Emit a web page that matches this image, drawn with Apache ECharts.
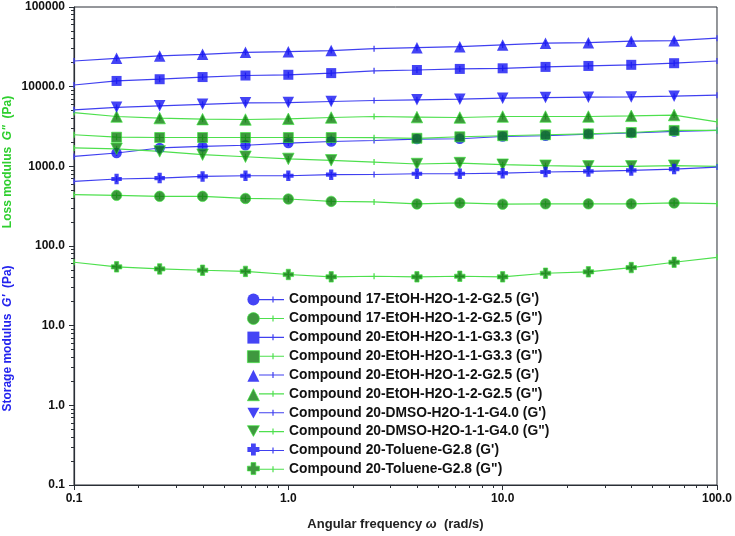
<!DOCTYPE html>
<html><head><meta charset="utf-8">
<script src="https://cdn.jsdelivr.net/npm/echarts@6/dist/echarts.min.js"></script>
<style>html,body{margin:0;padding:0;background:#fff}#c{width:735px;height:536px}</style>
</head><body><div id="c"></div>
<script>
// Angular frequency (rad/s)
const freq = [0.1, 0.158, 0.251, 0.398, 0.631, 1.0, 1.585, 2.512, 3.981, 6.31, 10.0, 15.85, 25.12, 39.81, 63.1, 100.0];
// whether a point carries a big symbol
const marked = [false, true, true, true, true, true, true, false, true, true, true, true, true, true, true, false];

const c17_Gp   = [1330, 1470, 1700, 1780, 1840, 1960, 2050, 2110, 2200, 2220, 2370, 2420, 2540, 2620, 2740, 2820];
const c17_Gpp  = [441, 432, 420, 420, 395, 389, 363, 357, 337, 347, 335, 338, 338, 338, 347, 340];
const c20a_Gp  = [10500, 11800, 12400, 13200, 13800, 14100, 14800, 15800, 16200, 16700, 17000, 17700, 18200, 18800, 19700, 21000];
const c20a_Gpp = [2490, 2320, 2300, 2300, 2300, 2300, 2300, 2290, 2250, 2350, 2420, 2490, 2560, 2660, 2820, 2820];
const c20b_Gp  = [21000, 22700, 24300, 25500, 27000, 27500, 28400, 30000, 30900, 31800, 33400, 35100, 35700, 37200, 37800, 40600];
const c20b_Gpp = [4730, 4220, 4030, 3910, 3870, 3950, 4100, 4220, 4150, 4100, 4220, 4220, 4220, 4300, 4400, 3620];
const c20d_Gp  = [5120, 5500, 5750, 6000, 6260, 6320, 6510, 6700, 6840, 6970, 7180, 7300, 7380, 7440, 7600, 7820];
const c20d_Gpp = [1700, 1660, 1540, 1400, 1320, 1240, 1190, 1130, 1070, 1100, 1050, 1020, 1000, 1000, 1020, 1000];
const c20t_Gp  = [647, 693, 713, 747, 762, 762, 785, 790, 807, 807, 820, 849, 864, 889, 925, 980];
const c20t_Gpp = [62.5, 54.7, 51.6, 49.6, 48.0, 43.9, 41.0, 41.7, 41.0, 41.7, 41.0, 45.5, 47.4, 53.6, 62.5, 72];

const seriesNames = [
  "Compound 17-EtOH-H2O-1-2-G2.5 (G')",
  "Compound 17-EtOH-H2O-1-2-G2.5 (G\")",
  "Compound 20-EtOH-H2O-1-1-G3.3 (G')",
  "Compound 20-EtOH-H2O-1-1-G3.3 (G\")",
  "Compound 20-EtOH-H2O-1-2-G2.5 (G')",
  "Compound 20-EtOH-H2O-1-2-G2.5 (G\")",
  "Compound 20-DMSO-H2O-1-1-G4.0 (G')",
  "Compound 20-DMSO-H2O-1-1-G4.0 (G\")",
  "Compound 20-Toluene-G2.8 (G')",
  "Compound 20-Toluene-G2.8 (G\")"
];
const seriesValues = [c17_Gp, c17_Gpp, c20a_Gp, c20a_Gpp, c20b_Gp, c20b_Gpp, c20d_Gp, c20d_Gpp, c20t_Gp, c20t_Gpp];

const xTickLabels = ['0.1', '1.0', '10.0', '100.0'];
const yTickLabels = ['0.1', '1.0', '10.0', '100.0', '1000.0', '10000.0', '100000'];

const FONT = 'Liberation Sans, Arial, Helvetica, sans-serif';
const BLUE_MARK = '#1515f2', BLUE_LINE = '#4040f0';
const GREEN_FILL = '#0f7e0f', GREEN_EDGE = '#3be83b', GREEN_LINE = '#4ee04e';
const AXIS = '#2a2f36';
const CROSS = 'path://M3,0H7V3H10V7H7V10H3V7H0V3H3Z';
const INV_TRI = 'path://M0,0L10,0L5,9Z';
const shapes = [
  {symbol: 'circle', size: 10.5, rot: 0, icon: 'circle'},
  {symbol: 'rect', size: 10, rot: 0, icon: 'rect'},
  {symbol: 'triangle', size: 11.5, rot: 0, icon: 'triangle'},
  {symbol: 'triangle', size: 11.5, rot: 180, icon: INV_TRI},
  {symbol: CROSS, size: 10.5, rot: 0, icon: CROSS}
];
const TICK_ICON = 'path://M0,0M25,12M0,5.5L25,5.5L25,6.6L0,6.6ZM13.4,3L14.6,3L14.6,9L13.4,9Z';

function minorTicks(lo, hi) {
  const out = [];
  for (let e = lo; e < hi; e++) for (let k = 2; k <= 9; k++) out.push(+(k * Math.pow(10, e)).toPrecision(3));
  return out;
}
const xMinor = minorTicks(-1, 2);
const yMinor = minorTicks(-1, 5);

const series = [];
const lineLegend = [], markLegend = [];
seriesNames.forEach((name, i) => {
  const isGpp = i % 2 === 1;
  const shp = shapes[Math.floor(i / 2)];
  const lc = isGpp ? GREEN_LINE : BLUE_LINE;
  const pts = freq.map((f, j) => [f, seriesValues[i][j]]);
  series.push({
    type: 'line', name: name, xAxisIndex: 0, yAxisIndex: 0,
    data: pts, symbol: 'rect', symbolSize: [1.3, 6], showAllSymbol: true,
    itemStyle: {color: lc}, lineStyle: {color: lc, width: 1.2}, z: 2,
    emphasis: {disabled: true}
  });
  const mName = name + '\u200b';
  series.push({
    type: 'scatter', name: mName, xAxisIndex: 0, yAxisIndex: 0,
    data: pts.filter((p, j) => marked[j]),
    symbol: shp.symbol, symbolSize: shp.size, symbolRotate: shp.rot,
    itemStyle: isGpp ? {color: GREEN_FILL, borderColor: GREEN_EDGE, borderWidth: 0.8} : {color: BLUE_MARK, borderWidth: 0},
    z: 3, emphasis: {disabled: true}
  });
  lineLegend.push({name: name});
  markLegend.push({name: mName, icon: shp.icon, itemStyle: {borderWidth: isGpp ? 0.8 : 0}});
});

function fmtLog(labels, base) {
  return function (v) {
    const e = Math.round(Math.log10(v));
    return labels[e - base] || '';
  };
}

const labelStyle = {fontSize: 12, fontWeight: 'bold', color: '#111', fontFamily: FONT};

const option = {
  animation: false,
  backgroundColor: '#fff',
  grid: {left: 74, right: 18, top: 7, bottom: 51, show: true, borderColor: AXIS, borderWidth: 1, backgroundColor: 'transparent'},
  xAxis: [
    {type: 'log', logBase: 10, min: 0.1, max: 100,
     axisLine: {show: true, lineStyle: {color: AXIS, width: 1.2}},
     axisTick: {show: true, length: 5, lineStyle: {color: AXIS}},
     axisLabel: Object.assign({margin: 8, formatter: fmtLog(xTickLabels, -1)}, labelStyle),
     splitLine: {show: false},
     name: '{a|Angular frequency }{b|\u03c9}{a|  (rad/s)}', nameLocation: 'middle', nameGap: 33,
     nameTextStyle: {rich: {
       a: {fontSize: 13, fontWeight: 'bold', color: '#222', fontFamily: FONT},
       b: {fontSize: 13, fontWeight: 'bold', fontStyle: 'italic', color: '#222', fontFamily: FONT}}}
    },
    {type: 'log', logBase: 10, min: 0.1, max: 100, position: 'bottom',
     axisLine: {show: false}, axisLabel: {show: false}, splitLine: {show: false},
     axisTick: {show: true, length: 3, customValues: xMinor, lineStyle: {color: AXIS}}}
  ],
  yAxis: [
    {type: 'log', logBase: 10, min: 0.1, max: 100000, position: 'left',
     axisLine: {show: true, lineStyle: {color: AXIS, width: 1.2}},
     axisTick: {show: true, length: 5, lineStyle: {color: AXIS}},
     axisLabel: Object.assign({margin: 9, formatter: fmtLog(yTickLabels, -1)}, labelStyle),
     splitLine: {show: false}},
    {type: 'log', logBase: 10, min: 0.1, max: 100000, position: 'left',
     axisLine: {show: false}, axisLabel: {show: false}, splitLine: {show: false},
     axisTick: {show: true, length: 3, customValues: yMinor, lineStyle: {color: AXIS}}}
  ],
  legend: [
    {orient: 'vertical', left: 247, top: 293.5, padding: 0, itemWidth: 12, itemHeight: 12, itemGap: 6.65,
     data: markLegend, formatter: () => '', selectedMode: false,
     textStyle: {fontSize: 10, lineHeight: 12}},
    {orient: 'vertical', left: 259, top: 292.6, padding: 0, itemWidth: 25, itemHeight: 12, itemGap: 4.85,
     data: lineLegend, icon: TICK_ICON, selectedMode: false,
     textStyle: {fontSize: 13.8, fontWeight: 'bold', color: '#111', lineHeight: 12, fontFamily: FONT}}
  ],
  graphic: [
    {type: 'text', x: 8, y: 338.5, rotation: Math.PI / 2,
     style: {text: "{a|Storage modulus  }{b|G'}{a|  (Pa)}", align: 'center', verticalAlign: 'middle',
       rich: {a: {fontSize: 12, fontWeight: 'bold', fill: '#2424ee', fontFamily: FONT},
              b: {fontSize: 12, fontWeight: 'bold', fontStyle: 'italic', fill: '#2424ee', fontFamily: FONT}}}},
    {type: 'text', x: 8, y: 162, rotation: Math.PI / 2,
     style: {text: '{a|Loss modulus  }{b|G"}{a|  (Pa)}', align: 'center', verticalAlign: 'middle',
       rich: {a: {fontSize: 12, fontWeight: 'bold', fill: '#2fcf2f', fontFamily: FONT},
              b: {fontSize: 12, fontWeight: 'bold', fontStyle: 'italic', fill: '#2fcf2f', fontFamily: FONT}}}}
  ],
  series: series
};

const chart = echarts.init(document.getElementById('c'), null, {renderer: 'canvas'});
chart.setOption(option);
</script>
</body></html>
